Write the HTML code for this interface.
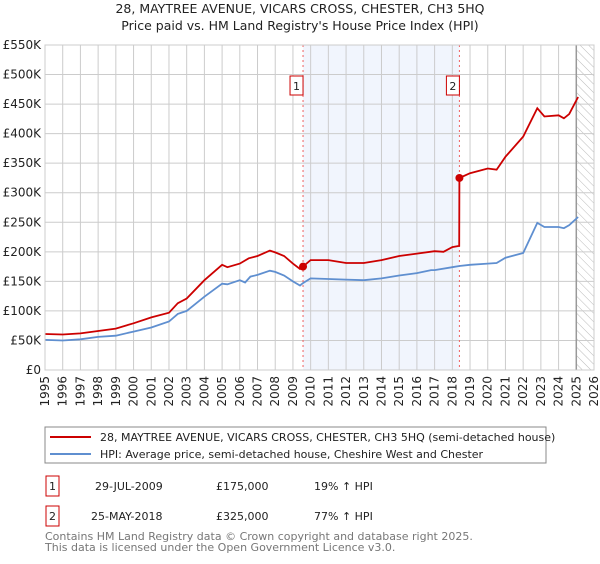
<!DOCTYPE html>
<html><head><meta charset="utf-8"><style>
body{margin:0;background:#fff;width:600px;height:560px;overflow:hidden;font-family:"DejaVu Sans","Liberation Sans",sans-serif}
svg text{font-family:"DejaVu Sans","Liberation Sans",sans-serif}
</style></head><body>
<svg id="c" width="600" height="560" xmlns="http://www.w3.org/2000/svg">
<defs><pattern id="hatch" width="6" height="6" patternUnits="userSpaceOnUse" patternTransform="rotate(-45)"><line x1="0" y1="0" x2="0" y2="6" stroke="#bbb" stroke-width="1"/></pattern></defs>
<text x="300" y="13" text-anchor="middle" font-size="12.5" fill="#222">28, MAYTREE AVENUE, VICARS CROSS, CHESTER, CH3 5HQ</text>
<text x="300" y="30" text-anchor="middle" font-size="12.5" fill="#222">Price paid vs. HM Land Registry's House Price Index (HPI)</text>
<g id="plot"></g>
<g>
<rect x="45" y="427" width="501" height="36" fill="#fff" stroke="#888"/>
<line x1="50" y1="437" x2="91" y2="437" stroke="#cc0000" stroke-width="2"/>
<text x="100" y="441" font-size="11" fill="#222">28, MAYTREE AVENUE, VICARS CROSS, CHESTER, CH3 5HQ (semi-detached house)</text>
<line x1="50" y1="454" x2="91" y2="454" stroke="#5f8fd0" stroke-width="2"/>
<text x="100" y="458" font-size="11" fill="#222">HPI: Average price, semi-detached house, Cheshire West and Chester</text>
</g>
<g font-size="11" fill="#222">
<rect x="46" y="476" width="13" height="20" fill="#fff" stroke="#cc0000"/><text x="52.5" y="490" text-anchor="middle">1</text>
<text x="95" y="490">29-JUL-2009</text><text x="216" y="490">£175,000</text><text x="314" y="490">19% ↑ HPI</text>
<rect x="46" y="506" width="13" height="20" fill="#fff" stroke="#cc0000"/><text x="52.5" y="520" text-anchor="middle">2</text>
<text x="91" y="520">25-MAY-2018</text><text x="216" y="520">£325,000</text><text x="314" y="520">77% ↑ HPI</text>
</g>
<text x="45" y="540" font-size="11" fill="#777">Contains HM Land Registry data © Crown copyright and database right 2025.</text>
<text x="45" y="551" font-size="11" fill="#777">This data is licensed under the Open Government Licence v3.0.</text>
</svg>
<script>
const hpiYears=[1995,1996,1997,1998,1999,2000,2001,2002,2002.5,2003,2004,2005,2005.3,2006,2006.3,2006.6,2007,2007.7,2008,2008.5,2009,2009.4,2009.57,2010,2011,2012,2013,2014,2015,2016,2016.8,2017,2018,2018.4,2019,2020,2020.5,2021,2022,2022.8,2023.2,2024,2024.3,2024.6,2025.1];
const hpiValues=[51,50,52,56,58,65,72,82,95,100,124,146,145,152,148,158,161,168,166,160,150,143,147,155,154,153,152,155,160,164,169,169,174,176,178,180,181,190,198,249,242,242,240,245,259];
const propYears=[1995,1996,1997,1998,1999,2000,2001,2002,2002.5,2003,2004,2005,2005.3,2006,2006.5,2007,2007.7,2008,2008.5,2009,2009.4,2009.57,2010,2011,2012,2013,2014,2015,2016,2017,2017.5,2018,2018.39,2018.4,2019,2020,2020.5,2021,2022,2022.8,2023.2,2024,2024.3,2024.6,2025.1];
const propValues=[61,60,62,66,70,79,89,97,113,121,152,178,174,180,189,193,202,199,193,180,171,175,186,186,181,181,186,193,197,201,200,208,210,325,333,341,339,361,395,443,429,431,426,433,462];
const saleYears=[2009.57,2018.4];
const saleValues=[175,325];
const saleLabels=["1","2"];
const yTicks=[0,50,100,150,200,250,300,350,400,450,500,550];
const xTicks=[1995,1996,1997,1998,1999,2000,2001,2002,2003,2004,2005,2006,2007,2008,2009,2010,2011,2012,2013,2014,2015,2016,2017,2018,2019,2020,2021,2022,2023,2024,2025,2026];
const L=45,R=594,T=45,B=370;
const xs=y=>L+(y-1995)/(2026-1995)*(R-L);
const ys=v=>B-v/550*(B-T);
const NS="http://www.w3.org/2000/svg";
const g=document.getElementById('plot');
function mk(t,a,p){const e=document.createElementNS(NS,t);for(const k in a)e.setAttribute(k,a[k]);(p||g).appendChild(e);return e;}
let e;
e=mk('rect',{x:xs(saleYears[0]),y:T,width:xs(saleYears[1])-xs(saleYears[0]),height:B-T,fill:'#eef2fc',opacity:0.8});


e=mk('rect',{x:xs(2025),y:T,width:R-xs(2025),height:B-T,fill:'url(#hatch)'});


yTicks.forEach(v=>{
 e=mk('line',{x1:L,x2:R,y1:ys(v),y2:ys(v),stroke:'#ccc'});
 
 
 e=mk('text',{x:L-4,y:ys(v)+4,'text-anchor':'end','font-size':'12',fill:'#222'});
 e.textContent=v===0?'£0':'£'+v+'K';
 
 
});
xTicks.forEach(y=>{
 e=mk('line',{x1:xs(y),x2:xs(y),y1:T,y2:B,stroke:'#ccc'});
 
 
 e=mk('text',{x:0,y:0,'text-anchor':'end','font-size':'12',fill:'#222',transform:`translate(${xs(y)+4},${B+6}) rotate(-90)`});
 e.textContent=y;
 
 
});
e=mk('line',{x1:xs(2025),x2:xs(2025),y1:T,y2:B,stroke:'#999','stroke-width':1.5});


saleYears.forEach((y,i)=>{
 e=mk('line',{x1:xs(y),x2:xs(y),y1:T,y2:B,stroke:'#f06060','stroke-dasharray':'2,3'});
 
 
 e=mk('rect',{x:xs(y)-13,y:76,width:13,height:19,fill:'#fff',stroke:'#cc0000'});
 
 
 e=mk('text',{x:xs(y)-6.5,y:90,'text-anchor':'middle','font-size':'11',fill:'#222'});
 e.textContent=saleLabels[i];
 
 
});
function pts(xa,va){return xa.map((x,i)=>xs(x).toFixed(1)+','+ys(va[i]).toFixed(1)).join(' ');}
e=mk('polyline',{points:pts(hpiYears,hpiValues),fill:'none',stroke:'#5f8fd0','stroke-width':1.8});


e=mk('polyline',{points:pts(propYears,propValues),fill:'none',stroke:'#cc0000','stroke-width':1.8});


saleYears.forEach((y,i)=>{
 e=mk('circle',{cx:xs(y),cy:ys(saleValues[i]),r:4,fill:'#cc0000'});
 
 
});
e=mk('rect',{x:L,y:T,width:R-L,height:B-T,fill:'none',stroke:'#ccc'});


</script>
</body></html>
